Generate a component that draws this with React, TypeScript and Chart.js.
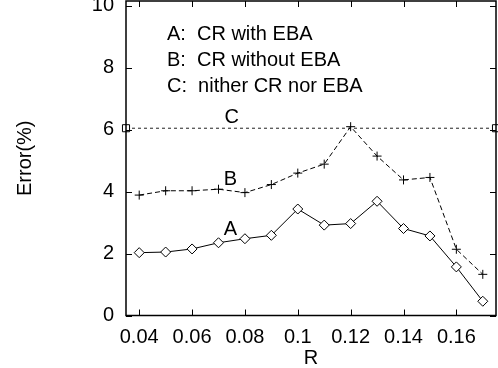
import React, { useEffect, useRef } from "react";
import { Chart, registerables } from "chart.js";

Chart.register(...registerables);

const rValues = [0.04, 0.05, 0.06, 0.07, 0.08, 0.09, 0.1, 0.11, 0.12, 0.13, 0.14, 0.15, 0.16, 0.17];
const errorA = [2.03, 2.05, 2.15, 2.35, 2.48, 2.59, 3.44, 2.92, 2.97, 3.69, 2.81, 2.57, 1.57, 0.46];
const errorB = [3.89, 4.03, 4.03, 4.08, 3.97, 4.23, 4.6, 4.89, 6.1, 5.15, 4.38, 4.46, 2.14, 1.33];
const cR = [0.035, 0.175];
const errorC = [6.05, 6.05];
const xTicks = [0.04, 0.06, 0.08, 0.1, 0.12, 0.14, 0.16];
const yTicks = [0, 2, 4, 6, 8, 10];
const legendLines = ["A:  CR with EBA", "B:  CR without EBA", "C:  nither CR nor EBA"];
const curveLabels = ["A", "B", "C"];

const FONT = "'Liberation Sans', Arial, Helvetica, sans-serif";

const framePlugin = {
  id: "frame",
  afterDatasetsDraw(chart: any) {
    const { ctx, chartArea, scales } = chart;
    const { left, right, top, bottom } = chartArea;
    const xs = scales.x;
    const ys = scales.y;
    ctx.save();
    ctx.strokeStyle = "#000";
    ctx.lineWidth = 1;
    const t = 6;
    ctx.beginPath();
    xTicks.forEach((v) => {
      const px = Math.round(xs.getPixelForValue(v)) + 0.5;
      ctx.moveTo(px, bottom);
      ctx.lineTo(px, bottom - t);
      ctx.moveTo(px, top);
      ctx.lineTo(px, top + t);
    });
    yTicks.forEach((v) => {
      const py = Math.round(ys.getPixelForValue(v)) + 0.5;
      ctx.moveTo(left, py);
      ctx.lineTo(left + t, py);
      ctx.moveTo(right, py);
      ctx.lineTo(right - t, py);
    });
    ctx.stroke();
    ctx.lineWidth = 1.5;
    ctx.strokeRect(left, top, right - left, bottom - top);

    // annotations
    ctx.fillStyle = "#000";
    ctx.font = `20px ${FONT}`;
    ctx.textBaseline = "middle";
    ctx.textAlign = "left";
    const lx = xs.getPixelForValue(0.0505);
    const legendY = [9.08, 8.24, 7.4];
    legendLines.forEach((s, i) => {
      ctx.fillText(s, lx, ys.getPixelForValue(legendY[i]));
    });
    ctx.textAlign = "center";
    const labPos = [
      [0.0745, 2.77],
      [0.0745, 4.38],
      [0.075, 6.4],
    ];
    curveLabels.forEach((s, i) => {
      ctx.fillText(s, xs.getPixelForValue(labPos[i][0]), ys.getPixelForValue(labPos[i][1]));
    });
    ctx.restore();
  },
};

export default function App() {
  const ref = useRef<HTMLCanvasElement | null>(null);
  useEffect(() => {
    if (!ref.current) return;
    Chart.defaults.font.family = FONT;
    Chart.defaults.color = "#000";
    const chart = new Chart(ref.current, {
      type: "scatter",
      data: {
        datasets: [
          {
            label: "A",
            data: rValues.map((r, i) => ({ x: r, y: errorA[i] })),
            showLine: true,
            borderColor: "#000",
            borderWidth: 1,
            pointStyle: "rectRot",
            pointRadius: 5,
            pointBorderWidth: 1,
            pointBorderColor: "#000",
            pointBackgroundColor: "#fff",
          },
          {
            label: "B",
            data: rValues.map((r, i) => ({ x: r, y: errorB[i] })),
            showLine: true,
            borderColor: "#000",
            borderWidth: 1,
            borderDash: [5, 3],
            pointStyle: "cross",
            pointRadius: 4.5,
            pointBorderWidth: 1,
            pointBorderColor: "#000",
          },
          {
            label: "C",
            data: cR.map((r, i) => ({ x: r, y: errorC[i] })),
            showLine: true,
            borderColor: "#222",
            borderWidth: 1,
            borderDash: [3, 3],
            pointStyle: "rect",
            pointRadius: 5,
            pointBorderWidth: 1,
            pointBorderColor: "#000",
            pointBackgroundColor: "#fff",
            clip: false as any,
          },
        ],
      },
      options: {
        animation: false,
        responsive: true,
        maintainAspectRatio: false,
        layout: { autoPadding: false, padding: { left: 0, right: 2, top: 1, bottom: 0 } },
        plugins: { legend: { display: false }, tooltip: { enabled: false } },
        scales: {
          x: {
            type: "linear",
            min: 0.035,
            max: 0.175,
            grid: { display: false, drawTicks: false },
            border: { display: false },
            afterBuildTicks: (s: any) => {
              s.ticks = xTicks.map((v) => ({ value: v }));
            },
            afterFit: (s: any) => {
              s.height = 52.5;
              s.paddingLeft = 0;
              s.paddingRight = 0;
              s.paddingTop = 0;
              s.paddingBottom = 0;
            },
            ticks: {
              padding: 9.5,
              font: { size: 20 },
              color: "#000",
              maxRotation: 0,
              autoSkip: false,
              callback: (v: any) => String(Number(Number(v).toFixed(2))),
            },
            title: {
              display: true,
              text: "R",
              font: { size: 20 },
              color: "#000",
              padding: { top: 0, bottom: -2 },
            },
          },
          y: {
            type: "linear",
            min: 0,
            max: 10.16,
            grid: { display: false, drawTicks: false },
            border: { display: false },
            afterBuildTicks: (s: any) => {
              s.ticks = yTicks.map((v) => ({ value: v }));
            },
            afterFit: (s: any) => {
              s.width = 126;
              s.paddingLeft = 0;
              s.paddingRight = 0;
              s.paddingTop = 0;
              s.paddingBottom = 0;
            },
            ticks: {
              padding: 12,
              font: { size: 20 },
              color: "#000",
              autoSkip: false,
              callback: (v: any) => String(v),
            },
            title: {
              display: true,
              text: "Error(%)",
              font: { size: 20 },
              color: "#000",
              padding: { top: 13, bottom: 0 },
            },
          },
        },
      },
      plugins: [framePlugin],
    });
    return () => chart.destroy();
  }, []);
  return (
    <div style={{ position: "absolute", left: 0, top: 0, width: 498, height: 368, background: "#fff" }}>
      <canvas ref={ref} />
    </div>
  );
}
